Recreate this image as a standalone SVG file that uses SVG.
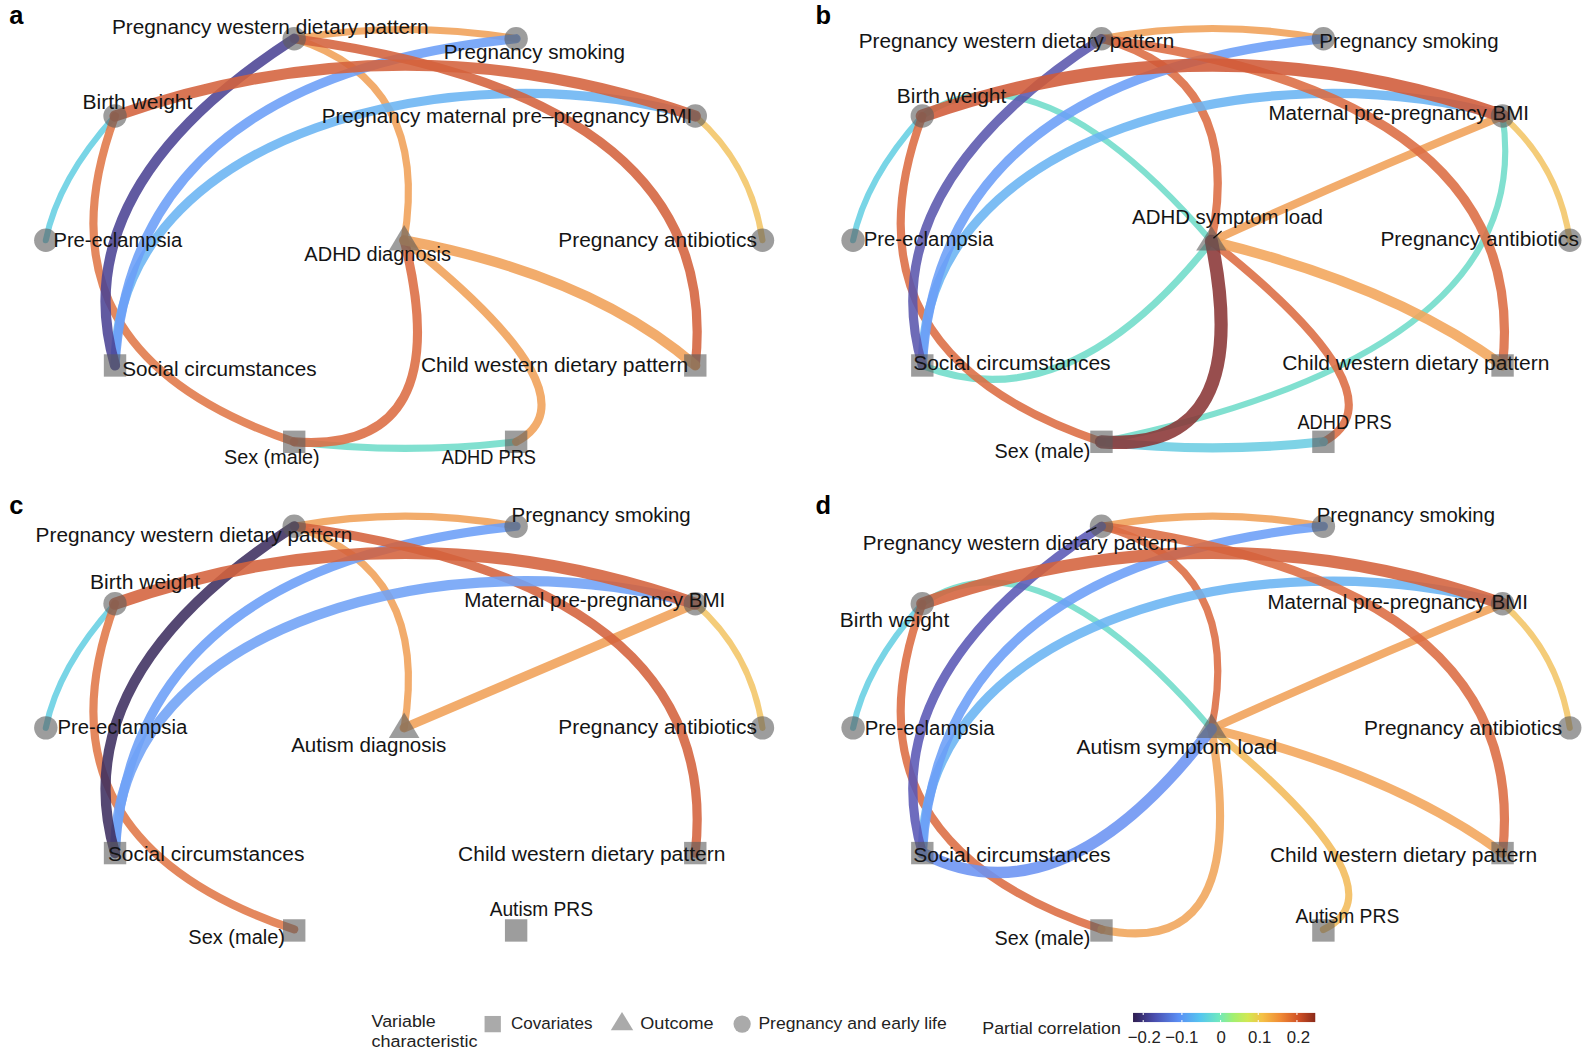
<svg xmlns="http://www.w3.org/2000/svg" width="1596" height="1052" viewBox="0 0 1596 1052">
<defs>
<linearGradient id="turbo" x1="0" x2="1" y1="0" y2="0">
<stop offset="0" stop-color="#2f1d50"/>
<stop offset="0.12" stop-color="#4a4fb0"/>
<stop offset="0.25" stop-color="#5a8ef5"/>
<stop offset="0.37" stop-color="#55c6ef"/>
<stop offset="0.47" stop-color="#6fe8c0"/>
<stop offset="0.55" stop-color="#a2f070"/>
<stop offset="0.63" stop-color="#d2e852"/>
<stop offset="0.71" stop-color="#f5c045"/>
<stop offset="0.81" stop-color="#f08a35"/>
<stop offset="0.91" stop-color="#d05025"/>
<stop offset="1" stop-color="#8a2a1a"/>
</linearGradient>
</defs>
<style>
.e{fill:none;stroke-linecap:round;stroke-opacity:.88}
.n{fill:#5c5c5c;fill-opacity:.6}
.k{fill:#aaaaaa}
.l{font-family:"Liberation Sans","DejaVu Sans",Arial,sans-serif;font-size:19px;fill:#141414}
.lg{font-family:"Liberation Sans","DejaVu Sans",Arial,sans-serif;font-size:16.5px;fill:#222}
.pl{font-family:"Liberation Sans","DejaVu Sans",Arial,sans-serif;font-size:25px;font-weight:bold;fill:#000}
.or{stroke:#f0a058}
.ro{stroke:#d4623c}
.ro2{stroke:#dc6c42}
.o3{stroke:#e07848}
.bl{stroke:#6b9ef7}
.lb{stroke:#6ab4f2}
.cy{stroke:#66cfe2}
.ye{stroke:#f3c566}
.tq{stroke:#6fdcc9}
.lead{stroke:#111;stroke-width:1.3;fill:none}
</style>
<rect width="1596" height="1052" fill="#ffffff"/>
<g transform="scale(1.018)">

<!-- Panel a -->
<g id="panel-a">
<text class="pl" x="9" y="24">a</text>
<g id="a-connectors">
<path class="e cy" stroke-width="6" d="M113,114 Q57,176 45,236"/>
<path class="e ye" stroke-width="6" d="M683,114 Q738,162 749,236"/>
<path class="e or" stroke-width="7" d="M289,38 Q398,20 507,38"/>
<path class="e or" stroke-width="7" d="M289,38 Q423,80 397,236"/>
<path class="e tq" stroke-width="7" d="M289,434 Q398,447 507,434"/>
<path class="e o3" stroke-width="8" d="M113,114 Q27,346 289,434"/>
<path class="e or" stroke-width="8" d="M397,236 Q590,390 507,434"/>
<path class="e lb" stroke-width="9" d="M683,114 C450,48 113,129 113,359"/>
<path class="e bl" stroke-width="9" d="M507,38 Q130,76 113,359"/>
<path class="e ro" stroke-width="9" d="M289,38 Q712,95 683,359"/>
<path class="e ro2" stroke-width="9" d="M397,236 Q450,446 289,434"/>
<path class="e or" stroke-width="10" d="M397,236 Q580,270 683,359"/>
<path class="e" stroke="#4b4394" stroke-width="10" d="M289,38 Q62,185 113,359"/>
<path class="e ro" stroke-width="11" d="M113,114 Q398,14 683,114"/>
</g>
<g id="a-pwdp"><circle class="n" cx="289" cy="38" r="11.5"/><text class="l" x="110" y="33" textLength="311" lengthAdjust="spacingAndGlyphs">Pregnancy western dietary pattern</text></g>
<g id="a-smoking"><circle class="n" cx="507" cy="38" r="11.5"/><text class="l" x="436" y="58" textLength="178" lengthAdjust="spacingAndGlyphs">Pregnancy smoking</text></g>
<g id="a-birthweight"><circle class="n" cx="113" cy="114" r="11.5"/><text class="l" x="81" y="107.5" textLength="108" lengthAdjust="spacingAndGlyphs">Birth weight</text></g>
<g id="a-bmi"><circle class="n" cx="683" cy="114" r="11.5"/><text class="l" x="316" y="121" textLength="364" lengthAdjust="spacingAndGlyphs">Pregnancy maternal pre–pregnancy BMI</text></g>
<g id="a-preeclampsia"><circle class="n" cx="45" cy="236" r="11.5"/><text class="l" x="52.5" y="242.5" textLength="126.5" lengthAdjust="spacingAndGlyphs">Pre-eclampsia</text></g>
<g id="a-antibiotics"><circle class="n" cx="749" cy="236" r="11.5"/><text class="l" x="548.5" y="242.5" textLength="195" lengthAdjust="spacingAndGlyphs">Pregnancy antibiotics</text></g>
<g id="a-outcome"><polygon class="n" points="397,221 382,246 412,246"/><text class="l" x="299" y="256" textLength="144" lengthAdjust="spacingAndGlyphs">ADHD diagnosis</text></g>
<g id="a-social"><rect class="n" x="102" y="348" width="22" height="22"/><text class="l" x="120" y="369" textLength="191" lengthAdjust="spacingAndGlyphs">Social circumstances</text></g>
<g id="a-childdiet"><rect class="n" x="672" y="348" width="22" height="22"/><text class="l" x="413.5" y="365.5" textLength="262.5" lengthAdjust="spacingAndGlyphs">Child western dietary pattern</text></g>
<g id="a-sex"><rect class="n" x="278" y="423" width="22" height="22"/><text class="l" x="220" y="455.5" textLength="94" lengthAdjust="spacingAndGlyphs">Sex (male)</text></g>
<g id="a-prs"><rect class="n" x="496" y="423" width="22" height="22"/><text class="l" x="434" y="455.5" textLength="92.5" lengthAdjust="spacingAndGlyphs">ADHD PRS</text></g>
</g>

<!-- Panel b -->
<g id="panel-b" transform="translate(793,0)">
<text class="pl" x="8" y="24">b</text>
<g id="b-connectors">
<path class="e cy" stroke-width="6" d="M113,114 Q57,176 45,236"/>
<path class="e ye" stroke-width="6" d="M683,114 Q738,162 749,236"/>
<path class="e tq" stroke-width="6" d="M113,114 Q225,38 397,237"/>
<path class="e tq" stroke-width="6" d="M683,114 Q718,346 289,434"/>
<path class="e or" stroke-width="7" d="M289,38 Q398,18 507,38"/>
<path class="e tq" stroke-width="7" d="M397,237 Q255,416 113,359"/>
<path class="e ro2" stroke-width="8" d="M289,38 Q430,75 397,237"/>
<path class="e or" stroke-width="8" d="M683,114 Q545,170 397,237"/>
<path class="e ro2" stroke-width="8" d="M397,237 Q590,390 507,434"/>
<path class="e ro2" stroke-width="8" d="M113,114 Q27,346 289,434"/>
<path class="e lb" stroke-width="9" d="M683,114 C450,48 113,129 113,359"/>
<path class="e bl" stroke-width="9" d="M507,38 Q130,76 113,359"/>
<path class="e ro2" stroke-width="9" d="M289,38 Q712,95 683,359"/>
<path class="e" stroke="#6ccde2" stroke-width="9" d="M289,434 Q398,446 507,434"/>
<path class="e" stroke="#5a56ad" stroke-width="9" d="M289,38 Q62,185 113,359"/>
<path class="e" stroke="#f3a55a" stroke-width="10" d="M397,237 Q575,280 683,359"/>
<path class="e" stroke="#8a3535" stroke-width="13" d="M397,237 Q440,446 289,434"/>
<path class="e" stroke="#d05a38" stroke-width="13" d="M113,114 Q398,14 683,114"/>
</g>
<g id="b-pwdp"><circle class="n" cx="289" cy="38" r="11.5"/><text class="l" x="50.5" y="47.5" textLength="310" lengthAdjust="spacingAndGlyphs">Pregnancy western dietary pattern</text></g>
<g id="b-smoking"><circle class="n" cx="507" cy="38" r="11.5"/><text class="l" x="503" y="47.5" textLength="176" lengthAdjust="spacingAndGlyphs">Pregnancy smoking</text></g>
<g id="b-birthweight"><circle class="n" cx="113" cy="114" r="11.5"/><text class="l" x="88" y="101" textLength="107.5" lengthAdjust="spacingAndGlyphs">Birth weight</text></g>
<g id="b-bmi"><circle class="n" cx="683" cy="114" r="11.5"/><text class="l" x="453" y="118" textLength="256" lengthAdjust="spacingAndGlyphs">Maternal pre-pregnancy BMI</text></g>
<g id="b-preeclampsia"><circle class="n" cx="45" cy="236" r="11.5"/><text class="l" x="55.5" y="241.5" textLength="127.5" lengthAdjust="spacingAndGlyphs">Pre-eclampsia</text></g>
<g id="b-antibiotics"><circle class="n" cx="749" cy="236" r="11.5"/><text class="l" x="563" y="241.5" textLength="195" lengthAdjust="spacingAndGlyphs">Pregnancy antibiotics</text></g>
<g id="b-outcome"><polygon class="n" points="397,222 382,246 412,246"/><line class="lead" x1="399" y1="234" x2="407" y2="227"/><text class="l" x="319" y="220.5" textLength="187.5" lengthAdjust="spacingAndGlyphs">ADHD symptom load</text></g>
<g id="b-social"><rect class="n" x="102" y="348" width="22" height="22"/><text class="l" x="104" y="363" textLength="194" lengthAdjust="spacingAndGlyphs">Social circumstances</text></g>
<g id="b-childdiet"><rect class="n" x="672" y="348" width="22" height="22"/><text class="l" x="466.5" y="363" textLength="262.5" lengthAdjust="spacingAndGlyphs">Child western dietary pattern</text></g>
<g id="b-sex"><rect class="n" x="278" y="423" width="22" height="22"/><text class="l" x="184" y="450" textLength="94" lengthAdjust="spacingAndGlyphs">Sex (male)</text></g>
<g id="b-prs"><rect class="n" x="496" y="423" width="22" height="22"/><text class="l" x="481.5" y="421" textLength="92.5" lengthAdjust="spacingAndGlyphs">ADHD PRS</text></g>
</g>

<!-- Panel c -->
<g id="panel-c" transform="translate(0,479)">
<text class="pl" x="9" y="26">c</text>
<g id="c-connectors">
<path class="e cy" stroke-width="6" d="M113,114 Q57,176 45,236"/>
<path class="e ye" stroke-width="6" d="M683,114 Q738,162 749,236"/>
<path class="e or" stroke-width="7" d="M289,38 Q398,18 507,38"/>
<path class="e or" stroke-width="7" d="M289,38 Q423,80 397,236"/>
<path class="e o3" stroke-width="8" d="M113,114 Q27,346 289,434"/>
<path class="e or" stroke-width="9" d="M683,114 Q548,172 397,236"/>
<path class="e bl" stroke-width="9" d="M507,38 Q130,76 113,359"/>
<path class="e ro" stroke-width="9" d="M289,38 Q712,95 683,359"/>
<path class="e" stroke="#6fa2f6" stroke-width="10" d="M683,114 C450,48 113,129 113,359"/>
<path class="e" stroke="#3d2f60" stroke-width="10" d="M289,38 Q62,185 113,359"/>
<path class="e ro" stroke-width="12" d="M113,114 Q398,14 683,114"/>
</g>
<g id="c-pwdp"><circle class="n" cx="289" cy="38" r="11.5"/><text class="l" x="35" y="53" textLength="311" lengthAdjust="spacingAndGlyphs">Pregnancy western dietary pattern</text></g>
<g id="c-smoking"><circle class="n" cx="507" cy="38" r="11.5"/><text class="l" x="502.5" y="34" textLength="176" lengthAdjust="spacingAndGlyphs">Pregnancy smoking</text></g>
<g id="c-birthweight"><circle class="n" cx="113" cy="114" r="11.5"/><text class="l" x="88.5" y="100" textLength="108" lengthAdjust="spacingAndGlyphs">Birth weight</text></g>
<g id="c-bmi"><circle class="n" cx="683" cy="114" r="11.5"/><text class="l" x="456" y="117" textLength="256.5" lengthAdjust="spacingAndGlyphs">Maternal pre-pregnancy BMI</text></g>
<g id="c-preeclampsia"><circle class="n" cx="45" cy="236" r="11.5"/><text class="l" x="56.5" y="242" textLength="127.5" lengthAdjust="spacingAndGlyphs">Pre-eclampsia</text></g>
<g id="c-antibiotics"><circle class="n" cx="749" cy="236" r="11.5"/><text class="l" x="548.5" y="242" textLength="195" lengthAdjust="spacingAndGlyphs">Pregnancy antibiotics</text></g>
<g id="c-outcome"><polygon class="n" points="397,221 382,246 412,246"/><text class="l" x="286" y="259.5" textLength="152.5" lengthAdjust="spacingAndGlyphs">Autism diagnosis</text></g>
<g id="c-social"><rect class="n" x="102" y="348" width="22" height="22"/><text class="l" x="106" y="366.5" textLength="193" lengthAdjust="spacingAndGlyphs">Social circumstances</text></g>
<g id="c-childdiet"><rect class="n" x="672" y="348" width="22" height="22"/><text class="l" x="450" y="366.5" textLength="262.5" lengthAdjust="spacingAndGlyphs">Child western dietary pattern</text></g>
<g id="c-sex"><rect class="n" x="278" y="424" width="22" height="22"/><text class="l" x="185" y="448.5" textLength="95" lengthAdjust="spacingAndGlyphs">Sex (male)</text></g>
<g id="c-prs"><rect class="n" x="496" y="424" width="22" height="22"/><text class="l" x="481" y="421" textLength="101.5" lengthAdjust="spacingAndGlyphs">Autism PRS</text></g>
</g>

<!-- Panel d -->
<g id="panel-d" transform="translate(793,479)">
<text class="pl" x="8" y="26">d</text>
<g id="d-connectors">
<path class="e cy" stroke-width="6" d="M113,114 Q57,176 45,236"/>
<path class="e ye" stroke-width="6" d="M683,114 Q738,162 749,236"/>
<path class="e tq" stroke-width="6" d="M113,114 Q225,38 397,237"/>
<path class="e or" stroke-width="7" d="M289,38 Q398,18 507,38"/>
<path class="e ro2" stroke-width="7" d="M289,38 Q430,75 397,237"/>
<path class="e" stroke="#f3bb5a" stroke-width="7" d="M397,237 Q590,395 507,434"/>
<path class="e or" stroke-width="8" d="M683,114 Q545,170 397,237"/>
<path class="e ro2" stroke-width="8" d="M113,114 Q27,346 289,434"/>
<path class="e" stroke="#f0a55a" stroke-width="8" d="M397,237 Q437,466 289,434"/>
<path class="e lb" stroke-width="9" d="M683,114 C450,48 113,129 113,359"/>
<path class="e bl" stroke-width="9" d="M507,38 Q130,76 113,359"/>
<path class="e ro2" stroke-width="9" d="M289,38 Q712,95 683,359"/>
<path class="e" stroke="#f3a55a" stroke-width="9" d="M397,237 Q575,280 683,359"/>
<path class="e" stroke="#5a58b5" stroke-width="9" d="M289,38 Q62,185 113,359"/>
<path class="e" stroke="#6b93f2" stroke-width="11" d="M397,237 Q250,430 113,359"/>
<path class="e ro" stroke-width="12" d="M113,114 Q398,14 683,114"/>
</g>
<g id="d-pwdp"><circle class="n" cx="289" cy="38" r="11.5"/><line class="lead" x1="274" y1="44" x2="284" y2="39"/><text class="l" x="54.5" y="61.5" textLength="309.5" lengthAdjust="spacingAndGlyphs">Pregnancy western dietary pattern</text></g>
<g id="d-smoking"><circle class="n" cx="507" cy="38" r="11.5"/><text class="l" x="500.5" y="34" textLength="175" lengthAdjust="spacingAndGlyphs">Pregnancy smoking</text></g>
<g id="d-birthweight"><circle class="n" cx="113" cy="114" r="11.5"/><text class="l" x="32" y="136.5" textLength="107.5" lengthAdjust="spacingAndGlyphs">Birth weight</text></g>
<g id="d-bmi"><circle class="n" cx="683" cy="114" r="11.5"/><text class="l" x="452" y="119.5" textLength="256" lengthAdjust="spacingAndGlyphs">Maternal pre-pregnancy BMI</text></g>
<g id="d-preeclampsia"><circle class="n" cx="45" cy="236" r="11.5"/><text class="l" x="56.5" y="243.5" textLength="127.5" lengthAdjust="spacingAndGlyphs">Pre-eclampsia</text></g>
<g id="d-antibiotics"><circle class="n" cx="749" cy="236" r="11.5"/><text class="l" x="547" y="243.5" textLength="194.5" lengthAdjust="spacingAndGlyphs">Pregnancy antibiotics</text></g>
<g id="d-outcome"><polygon class="n" points="397,222 382,246 412,246"/><text class="l" x="264.5" y="262" textLength="197" lengthAdjust="spacingAndGlyphs">Autism symptom load</text></g>
<g id="d-social"><rect class="n" x="102" y="348" width="22" height="22"/><text class="l" x="104" y="367.5" textLength="194" lengthAdjust="spacingAndGlyphs">Social circumstances</text></g>
<g id="d-childdiet"><rect class="n" x="672" y="348" width="22" height="22"/><text class="l" x="454.5" y="367.5" textLength="262.5" lengthAdjust="spacingAndGlyphs">Child western dietary pattern</text></g>
<g id="d-sex"><rect class="n" x="278" y="424" width="22" height="22"/><text class="l" x="184" y="449.5" textLength="94" lengthAdjust="spacingAndGlyphs">Sex (male)</text></g>
<g id="d-prs"><rect class="n" x="496" y="424" width="22" height="22"/><text class="l" x="479.5" y="427.5" textLength="102" lengthAdjust="spacingAndGlyphs">Autism PRS</text></g>
</g>

<!-- Legend -->
<g id="legend">
<text class="lg" x="365" y="1009" textLength="63" lengthAdjust="spacingAndGlyphs">Variable</text>
<text class="lg" x="365" y="1028" textLength="104" lengthAdjust="spacingAndGlyphs">characteristic</text>
<rect class="k" x="476" y="998" width="16" height="16"/>
<text class="lg" x="502" y="1011" textLength="80" lengthAdjust="spacingAndGlyphs">Covariates</text>
<polygon class="k" points="600,1012 611,994 622,1012"/>
<text class="lg" x="629" y="1011" textLength="72" lengthAdjust="spacingAndGlyphs">Outcome</text>
<circle class="k" cx="729" cy="1006" r="8.5"/>
<text class="lg" x="745" y="1011" textLength="185" lengthAdjust="spacingAndGlyphs">Pregnancy and early life</text>
<text class="lg" x="965" y="1016" textLength="136" lengthAdjust="spacingAndGlyphs">Partial correlation</text>
<rect x="1113" y="995" width="179" height="9" fill="url(#turbo)"/>
<g stroke="#ffffff" stroke-width="1">
<line x1="1123" y1="995" x2="1123" y2="997"/><line x1="1123" y1="1002" x2="1123" y2="1004"/>
<line x1="1161" y1="995" x2="1161" y2="997"/><line x1="1161" y1="1002" x2="1161" y2="1004"/>
<line x1="1199" y1="995" x2="1199" y2="997"/><line x1="1199" y1="1002" x2="1199" y2="1004"/>
<line x1="1236" y1="995" x2="1236" y2="997"/><line x1="1236" y1="1002" x2="1236" y2="1004"/>
<line x1="1274" y1="995" x2="1274" y2="997"/><line x1="1274" y1="1002" x2="1274" y2="1004"/>
</g>
<g class="lg" text-anchor="middle">
<text x="1124" y="1025">−0.2</text>
<text x="1161" y="1025">−0.1</text>
<text x="1199.5" y="1025">0</text>
<text x="1237.5" y="1025">0.1</text>
<text x="1275.5" y="1025">0.2</text>
</g>
</g>
</g>
</svg>
